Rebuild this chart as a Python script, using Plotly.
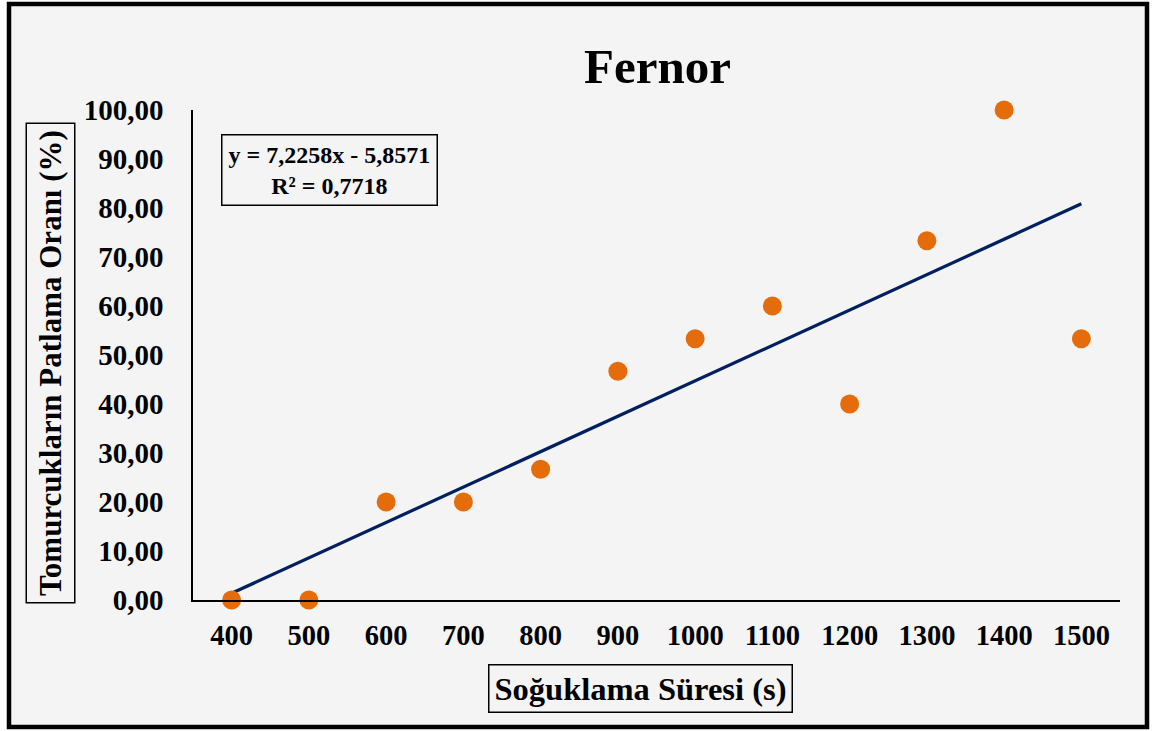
import numpy as np
import plotly.graph_objects as go

# ---- data ----
categories = ["400", "500", "600", "700", "800", "900", "1000", "1100", "1200", "1300", "1400", "1500"]
values = [0.0, 0.0, 20.0, 20.0, 26.67, 46.67, 53.33, 60.0, 40.0, 73.33, 100.0, 53.33]
y_ticks = [0, 10, 20, 30, 40, 50, 60, 70, 80, 90, 100]
title_text = "Fernor"
x_title = "Soğuklama Süresi (s)"
y_title = "Tomurcukların Patlama Oranı (%)"
eq_text = "y = 7,2258x - 5,8571<br>R² = 0,7718"

# ---- layout geometry (pixels) ----
W, H = 1152, 731
L, R, T, B = 193, 1120, 110, 600
FONT = "Liberation Serif, Times New Roman, serif"

def px(x):
    return (x - L) / (R - L)

def py(y):
    return (B - y) / (B - T)

idx = np.arange(1, len(categories) + 1)
slope, intercept = np.polyfit(idx, values, 1)
trend_x = [idx[0], idx[-1]]
trend_y = [slope * idx[0] + intercept, slope * idx[-1] + intercept]

fig = go.Figure()
fig.add_trace(go.Scatter(
    x=trend_x, y=trend_y, mode="lines",
    line=dict(color="#002060", width=3.2), hoverinfo="skip", showlegend=False,
))
fig.add_trace(go.Scatter(
    x=idx, y=values, mode="markers",
    marker=dict(color="#E46C0A", size=19, line=dict(width=0)),
    showlegend=False, cliponaxis=False,
))

fig.update_layout(
    width=W, height=H,
    margin=dict(l=L, r=W - R, t=T, b=H - B, pad=0),
    paper_bgcolor="white", plot_bgcolor="rgba(0,0,0,0)",
    separators=", ",
    font=dict(family=FONT, color="black"),
    showlegend=False,
)
fig.update_xaxes(
    range=[0.5, len(categories) + 0.5],
    tickmode="array", tickvals=list(idx), ticktext=categories,
    showgrid=False, zeroline=False,
    showline=True, linecolor="black", linewidth=1.5,
    ticks="", ticklabelstandoff=9,
    tickfont=dict(family=FONT, size=28.5, color="black", weight="bold"),
)
fig.update_yaxes(
    range=[0, 100],
    tickmode="array", tickvals=y_ticks, tickformat=".2f",
    showgrid=False, zeroline=False,
    showline=True, linecolor="black", linewidth=1.5,
    ticks="", ticklabelstandoff=22,
    tickfont=dict(family=FONT, size=29, color="black", weight="bold"),
)

shapes = [
    dict(type="rect", xref="paper", yref="paper", layer="below",
         x0=px(9), x1=px(1147), y0=py(727), y1=py(4),
         fillcolor="#f4f4f4", line=dict(width=0)),
    dict(type="rect", xref="paper", yref="paper", layer="above",
         x0=px(9), x1=px(1147), y0=py(727), y1=py(4),
         fillcolor="rgba(0,0,0,0)", line=dict(color="black", width=4.5)),
]
fig.update_layout(shapes=shapes)

fig.add_annotation(
    text="<b>%s</b>" % title_text, xref="paper", yref="paper",
    x=px(657), y=py(66), showarrow=False, xanchor="center", yanchor="middle",
    font=dict(family=FONT, size=49, color="black"),
)
fig.add_annotation(
    text="<b>%s</b>" % y_title, xref="paper", yref="paper",
    x=px(50.5), y=py(363), showarrow=False, xanchor="center", yanchor="middle",
    textangle=-90, font=dict(family=FONT, size=31, color="black"),
    bordercolor="black", borderwidth=1.5, borderpad=6,
)
fig.add_annotation(
    text="<b>%s</b>" % x_title, xref="paper", yref="paper",
    x=px(640.5), y=py(688), showarrow=False, xanchor="center", yanchor="middle",
    font=dict(family=FONT, size=32.5, color="black"),
    bordercolor="black", borderwidth=1.5, borderpad=5,
)
fig.add_annotation(
    text="<b>%s</b>" % eq_text, xref="paper", yref="paper",
    x=px(329), y=py(170), showarrow=False, xanchor="center", yanchor="middle",
    align="center", font=dict(family=FONT, size=24, color="black"),
    bordercolor="black", borderwidth=1.5, borderpad=6,
)

fig.write_html(
    "out.html",
    config={"displayModeBar": False},
    post_script="document.body.style.margin='0';document.body.style.overflow='hidden';",
)
